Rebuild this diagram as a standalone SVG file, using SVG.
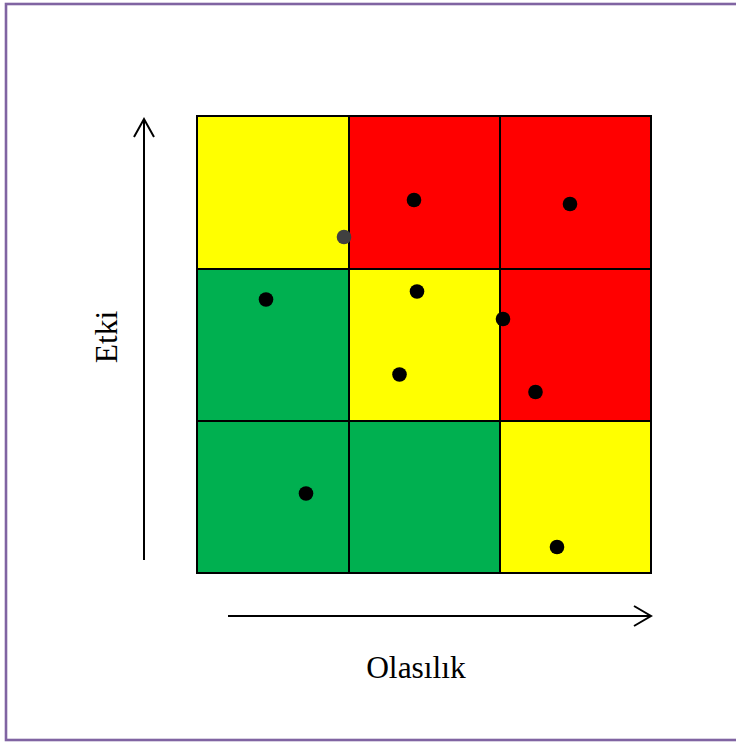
<svg xmlns="http://www.w3.org/2000/svg" width="736" height="742" viewBox="0 0 736 742">
<defs>
<style>
.cell{stroke:#000;stroke-width:2}
.y{fill:#FFFF00}.r{fill:#FF0000}.g{fill:#00B050}
.dot{fill:#000}
.ax{stroke:#000;stroke-width:2;fill:none}
.lbl{font-family:"Liberation Serif","Times New Roman",serif;font-size:31.5px;fill:#000}
</style>
</defs>
<rect width="736" height="742" fill="#fff"/>
<rect x="6" y="4" width="740" height="736" fill="none" stroke="#8064A2" stroke-width="2.6"/>
<g id="grid">
<rect id="c11" class="cell y" x="197" y="116" width="152" height="153"/>
<rect id="c12" class="cell r" x="349" y="116" width="151" height="153"/>
<rect id="c13" class="cell r" x="500" y="116" width="151" height="153"/>
<rect id="c21" class="cell g" x="197" y="269" width="152" height="152"/>
<rect id="c22" class="cell y" x="349" y="269" width="151" height="152"/>
<rect id="c23" class="cell r" x="500" y="269" width="151" height="152"/>
<rect id="c31" class="cell g" x="197" y="421" width="152" height="152"/>
<rect id="c32" class="cell g" x="349" y="421" width="151" height="152"/>
<rect id="c33" class="cell y" x="500" y="421" width="151" height="152"/>
</g>
<g id="points">
<circle class="dot" cx="414" cy="200" r="7.3"/>
<circle class="dot" cx="570" cy="204" r="7.3"/>
<circle cx="344" cy="237" r="7.3" fill="#404040"/>
<circle class="dot" cx="266" cy="299.5" r="7.3"/>
<circle class="dot" cx="417" cy="291.5" r="7.3"/>
<circle class="dot" cx="503" cy="319" r="7.3"/>
<circle class="dot" cx="399.5" cy="374.5" r="7.3"/>
<circle class="dot" cx="535.5" cy="392" r="7.3"/>
<circle class="dot" cx="306" cy="493.5" r="7.3"/>
<circle class="dot" cx="557" cy="547" r="7.3"/>
</g>
<g id="connectors">
<path class="ax" d="M144 560 V119 M134 137 L144 119 L154 137"/>
<path class="ax" d="M228 616 H651 M634 606 L651 616 L634 626"/>
</g>
<text class="lbl" transform="translate(117 337) rotate(-90)" text-anchor="middle">Etki</text>
<text class="lbl" x="416" y="678" text-anchor="middle">Olasılık</text>
</svg>
